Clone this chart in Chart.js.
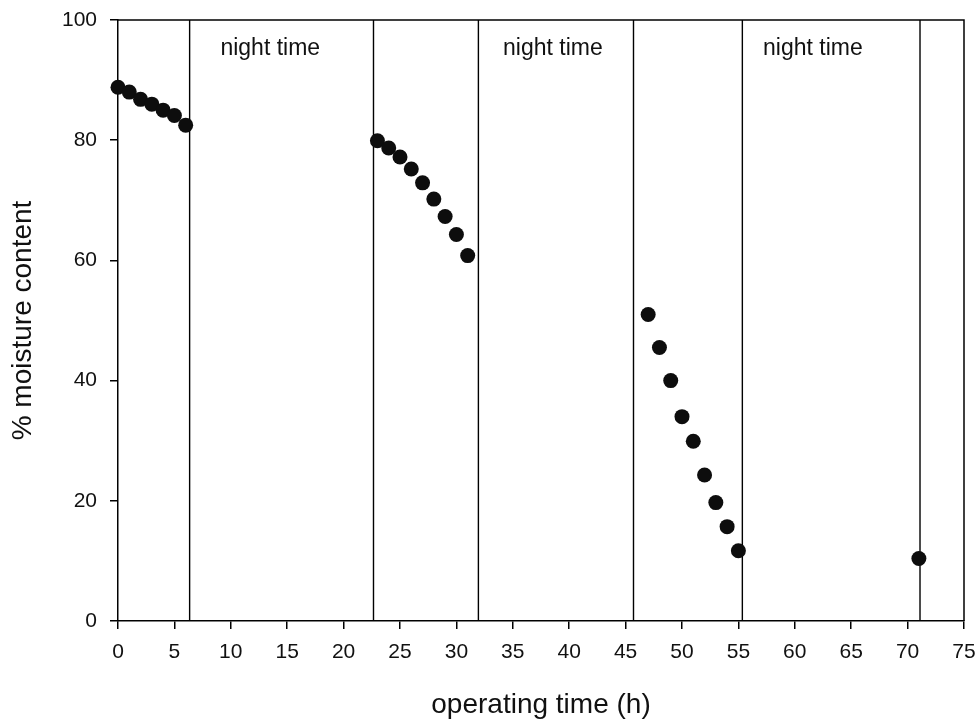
<!DOCTYPE html>
<html>
<head>
<meta charset="utf-8">
<script src="https://cdn.jsdelivr.net/npm/chart.js@4.4.1/dist/chart.umd.min.js"></script>
<style>
  html, body { margin: 0; padding: 0; background: #ffffff; }
  #wrap { width: 980px; height: 724px; }
</style>
</head>
<body>
<div id="wrap"><canvas id="c" width="980" height="724"></canvas></div>
<script>
// ---- data ----
const operatingTime = [0, 1, 2, 3, 4, 5, 6, 23, 24, 25, 26, 27, 28, 29, 30, 31, 47, 48, 49, 50, 51, 52, 53, 54, 55, 71];
const moistureContent = [88.8, 88.0, 86.8, 86.0, 85.0, 84.1, 82.5, 79.9, 78.7, 77.2, 75.2, 72.9, 70.2, 67.3, 64.3, 60.8, 51.0, 45.5, 40.0, 34.0, 29.9, 24.3, 19.7, 15.7, 11.7, 10.4];
const boundaryTimes = [6.35, 22.65, 31.95, 45.7, 55.35, 71.1];
const nightLabelText = ["night time", "night time", "night time"];
const nightLabelX = [13.5, 38.55, 61.6];
const nightLabelY = [95.3, 95.3, 95.3];
const xTicks = [0, 5, 10, 15, 20, 25, 30, 35, 40, 45, 50, 55, 60, 65, 70, 75];
const yTicks = [0, 20, 40, 60, 80, 100];

const FONT = "'Liberation Sans', Arial, Helvetica, sans-serif";

const points = operatingTime.map((t, i) => ({ x: t, y: moistureContent[i] }));

const boundaryDatasets = boundaryTimes.map(t => ({
  type: 'line',
  data: [{ x: t, y: 0 }, { x: t, y: 100 }],
  borderColor: '#000',
  borderWidth: 1.4,
  pointRadius: 0,
  fill: false,
  order: 2
}));

const framePlugin = {
  id: 'frame',
  afterDatasetsDraw(chart) {
    const { ctx, chartArea } = chart;
    ctx.save();
    ctx.strokeStyle = '#000';
    ctx.lineWidth = 1.5;
    ctx.beginPath();
    ctx.moveTo(chartArea.left, chartArea.top);
    ctx.lineTo(chartArea.right, chartArea.top);
    ctx.lineTo(chartArea.right, chartArea.bottom);
    ctx.stroke();
    // night labels
    const xs = chart.scales.x, ys = chart.scales.y;
    ctx.fillStyle = '#111';
    ctx.font = '23px ' + FONT;
    ctx.textAlign = 'center';
    ctx.textBaseline = 'middle';
    nightLabelText.forEach((txt, i) => {
      ctx.fillText(txt, xs.getPixelForValue(nightLabelX[i]), ys.getPixelForValue(nightLabelY[i]));
    });
    ctx.restore();
  }
};

new Chart(document.getElementById('c'), {
  type: 'scatter',
  data: {
    datasets: [
      {
        data: points,
        backgroundColor: '#0d0d0d',
        borderColor: '#0d0d0d',
        pointRadius: 7.5,
        pointHoverRadius: 7.5,
        borderWidth: 0,
        clip: false,
        order: 1
      },
      ...boundaryDatasets
    ]
  },
  options: {
    responsive: false,
    animation: false,
    devicePixelRatio: 1,
    layout: { padding: { top: 20, right: 16, left: 0, bottom: 0 } },
    plugins: {
      legend: { display: false },
      tooltip: { enabled: false }
    },
    scales: {
      x: {
        type: 'linear',
        min: 0,
        max: 75,
        afterBuildTicks: s => { s.ticks = xTicks.map(v => ({ value: v })); },
        afterFit: s => { s.height = 103; s.paddingLeft = 0; s.paddingRight = 0; },
        grid: { drawOnChartArea: false, drawTicks: true, tickLength: 8, color: '#000', lineWidth: 1.5 },
        border: { display: true, color: '#000', width: 1.5 },
        ticks: { color: '#111', font: { family: FONT, size: 21 }, padding: 11, maxRotation: 0 },
        title: {
          display: true,
          text: 'operating time (h)',
          color: '#111',
          font: { family: FONT, size: 28 },
          padding: { top: 0, bottom: 2 }
        }
      },
      y: {
        type: 'linear',
        min: 0,
        max: 100,
        afterBuildTicks: s => { s.ticks = yTicks.map(v => ({ value: v })); },
        afterFit: s => { s.width = 118; s.paddingTop = 0; s.paddingBottom = 0; },
        grid: { drawOnChartArea: false, drawTicks: true, tickLength: 8, color: '#000', lineWidth: 1.5 },
        border: { display: true, color: '#000', width: 1.5 },
        ticks: { color: '#111', font: { family: FONT, size: 21 }, padding: 13 },
        title: {
          display: true,
          text: '% moisture content',
          color: '#111',
          font: { family: FONT, size: 28 },
          padding: { top: 6, bottom: 0 }
        }
      }
    }
  },
  plugins: [framePlugin]
});
</script>
</body>
</html>
